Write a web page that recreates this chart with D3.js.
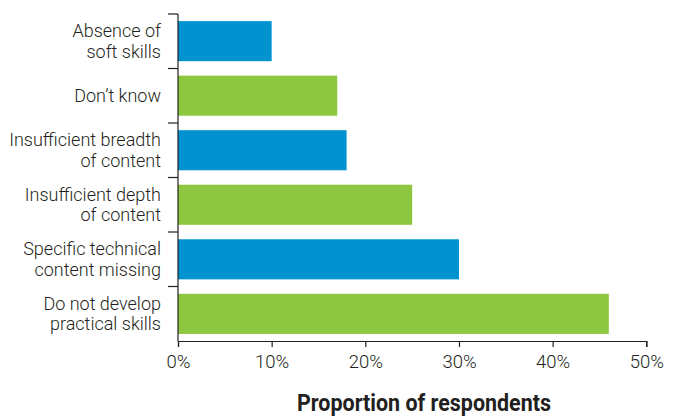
<!DOCTYPE html>
<html>
<head>
<meta charset="utf-8">
<script src="https://cdn.jsdelivr.net/npm/d3@7"></script>
<style>
  html, body { margin: 0; padding: 0; background: #fff; }
  svg { display: block; }
  text { font-family: "Roboto", "Liberation Sans", sans-serif; fill: #231f20; }
</style>
</head>
<body>
<svg id="chart" width="673" height="419"></svg>
<script>
// Reasons given, top to bottom, with the share of respondents for each
const categories = [
  ["Absence of", "soft skills"],
  ["Don\u2019t know"],
  ["Insufficient breadth", "of content"],
  ["Insufficient depth", "of content"],
  ["Specific technical", "content missing"],
  ["Do not develop", "practical skills"]
];
const values = [10, 17, 18, 25, 30, 46];
const barColors = ["#0093d0", "#8dc63f", "#0093d0", "#8dc63f", "#0093d0", "#8dc63f"];
const xTicks = [0, 10, 20, 30, 40, 50];
const xTitle = "Proportion of respondents";

const svg = d3.select("#chart");
const margin = { left: 178, right: 26, top: 14, bottom: 78 };
const W = 673, H = 419;

const x = d3.scaleLinear().domain([0, 50]).range([margin.left, W - margin.right - 0.7]);
const y = d3.scaleBand().domain(d3.range(categories.length))
  .range([margin.top, H - margin.bottom]).paddingInner(0.265).paddingOuter(0.13);

// Bars
svg.append("g").selectAll("rect").data(values).join("rect")
  .attr("x", x(0))
  .attr("y", (d, i) => y(i))
  .attr("width", d => x(d) - x(0))
  .attr("height", y.bandwidth())
  .attr("fill", (d, i) => barColors[i]);

// Category axis: band boundaries with ticks to the left
const yTop = margin.top, yBot = H - margin.bottom;
const bandH = (yBot - yTop) / categories.length;
const gy = svg.append("g");
gy.append("line").attr("x1", x(0)).attr("x2", x(0)).attr("y1", yTop).attr("y2", yBot)
  .attr("stroke", "#231f20").attr("stroke-width", 1.2);
gy.selectAll("line.tk").data(d3.range(categories.length)).join("line").attr("class", "tk")
  .attr("x1", x(0) - 10).attr("x2", x(0))
  .attr("y1", i => yTop + i * bandH).attr("y2", i => yTop + i * bandH)
  .attr("stroke", "#231f20").attr("stroke-width", 1.2);

// Category labels
const lab = svg.append("g").selectAll("text").data(categories).join("text")
  .attr("text-anchor", "end")
  .attr("font-size", 18)
  .attr("font-weight", 300)
  .attr("transform", (d, i) => `translate(${x(0) - 17},${y(i) + y.bandwidth() / 2})`);
lab.selectAll("tspan").data(d => d.map((t, k) => ({ t, k, n: d.length }))).join("tspan")
  .attr("x", 0)
  .attr("y", d => (d.k - (d.n - 1) / 2) * 20.5)
  .attr("dy", "0.35em")
  .text(d => d.t);

// Value axis
const xAxis = d3.axisBottom(x).tickValues(xTicks).tickFormat(d => d + "%").tickSize(6).tickPadding(8);
const gx = svg.append("g").attr("transform", `translate(0,${yBot})`).call(xAxis);
gx.select(".domain").attr("stroke", "#231f20").attr("stroke-width", 1.2);
gx.selectAll(".tick line").attr("stroke", "#231f20").attr("stroke-width", 1.2);
gx.selectAll(".tick text").attr("font-size", 18.5).attr("font-weight", 300).attr("fill", "#231f20")
  .style("font-family", '"Roboto", sans-serif');

// Axis title
svg.append("text")
  .attr("x", 424).attr("y", 411)
  .attr("text-anchor", "middle")
  .attr("font-size", 23)
  .attr("font-weight", "bold")
  .attr("textLength", 254)
  .attr("lengthAdjust", "spacingAndGlyphs")
  .text(xTitle);
</script>
</body>
</html>
